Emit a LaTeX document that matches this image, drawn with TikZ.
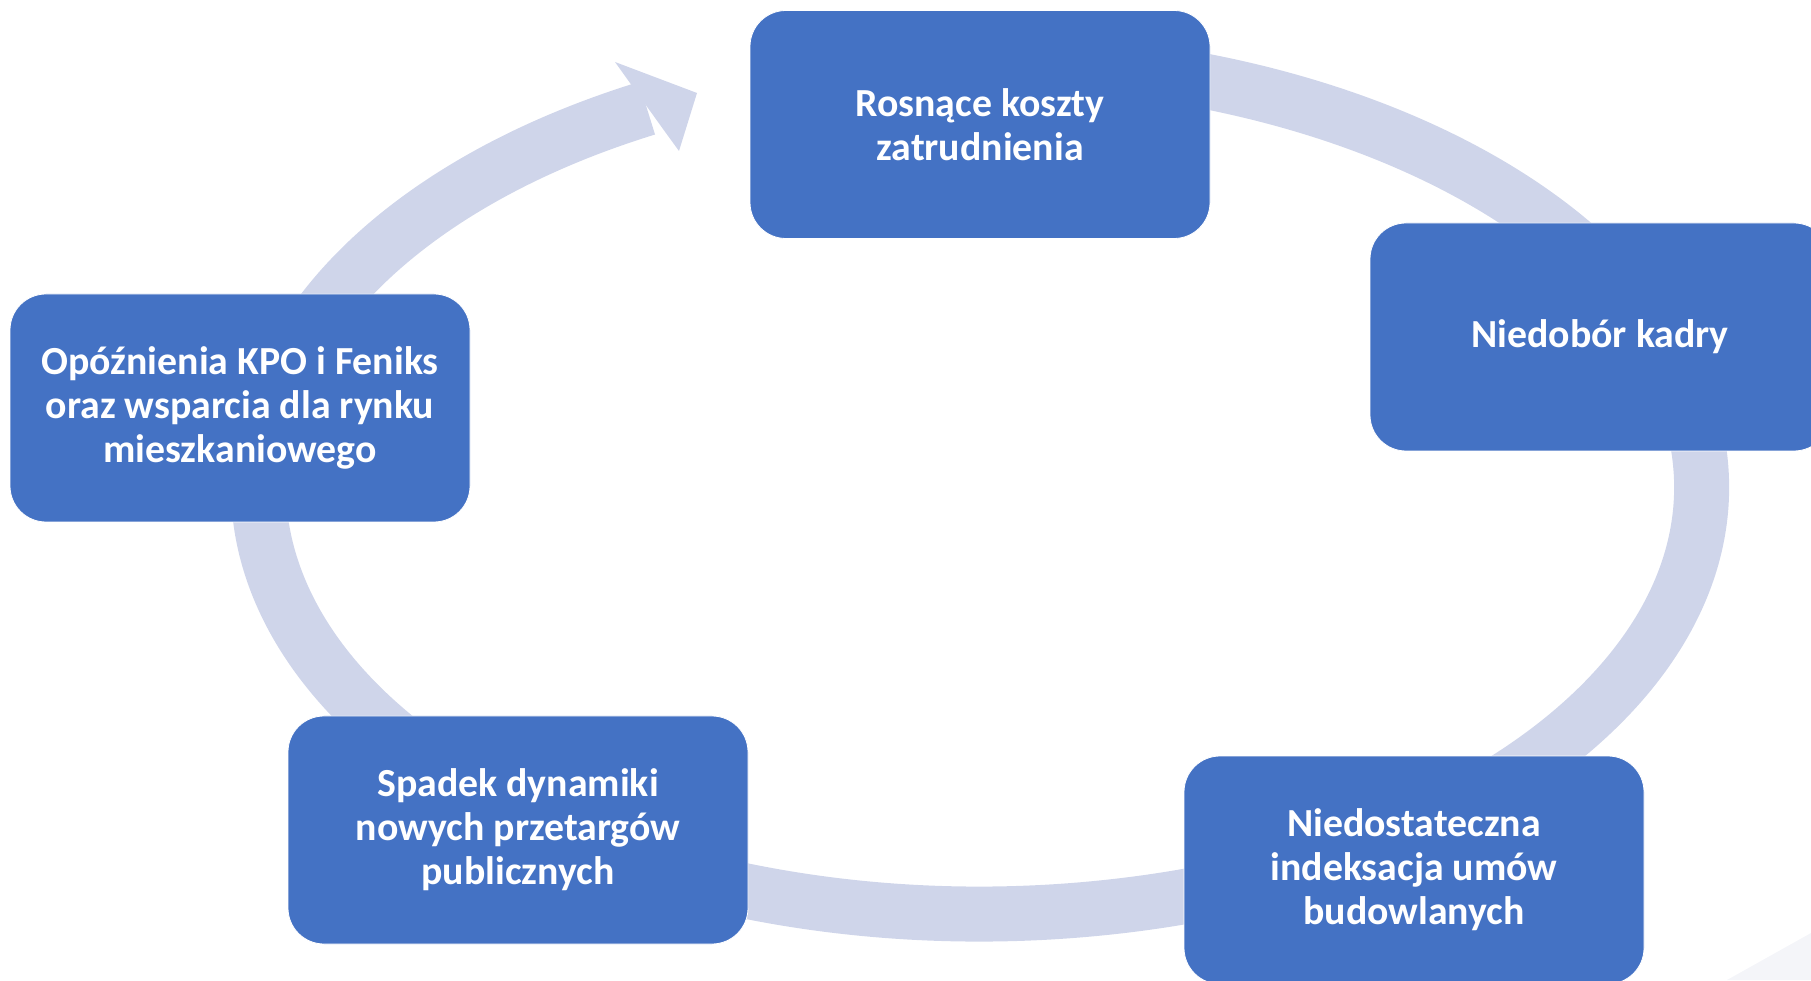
\documentclass[tikz,border=0pt]{standalone}
\usepackage{fontspec}
\setmainfont{Carlito}
\usetikzlibrary{calc}
\definecolor{BoxBlue}{HTML}{4472C4}
\definecolor{RingBlue}{HTML}{CFD5EA}
\definecolor{CornerGray}{HTML}{F4F5F9}

\begin{document}
\begin{tikzpicture}[x = 1pt, y = 1pt]%
    %
    \def\ringa{721.5pt}% radii of the ring centre line
    \def\ringb{427pt}%
    %
    \tikzstyle{ring} = [draw = RingBlue, line width = 55pt]%
    \tikzstyle{box} = [rectangle, rounded corners = 36pt, fill = BoxBlue, draw = white, line width = .8pt, minimum width = 460pt, minimum height = 228pt, inner sep = 0pt, align = center, text = white, font = \fontsize{39.8pt}{44pt}\selectfont\bfseries]%
    %
    \useasboundingbox (0, 0) rectangle (1811, 980);%
    \fill [CornerGray] (1727, 0) -- (1811, 47) -- (1811, 0) -- cycle;%
    %
    \coordinate (centre) at (980, 493);%
    \draw [ring] ($(centre)+(100:{\ringa} and {\ringb})$) arc [start angle = 100, end angle = -242.5, x radius = \ringa, y radius = \ringb];%
    \fill [RingBlue] (630, 897) -- (615, 918) -- (697, 887) -- (679, 829) -- (663, 851) -- cycle;%
    %
    \node [box] (costs) at (980, 855.5) {Rosnące koszty\\zatrudnienia};%
    \node [box] (staff) at (1600, 643) {Niedobór kadry};%
    \node [box] (index) at (1414, 110) {Niedostateczna\\indeksacja umów\\budowlanych};%
    \node [box] (tenders) at (518, 150) {Spadek dynamiki\\nowych przetargów\\publicznych};%
    \node [box] (delays) at (240, 572) {Opóźnienia KPO i Feniks\\oraz wsparcia dla rynku\\mieszkaniowego};%
\end{tikzpicture}
\end{document}
